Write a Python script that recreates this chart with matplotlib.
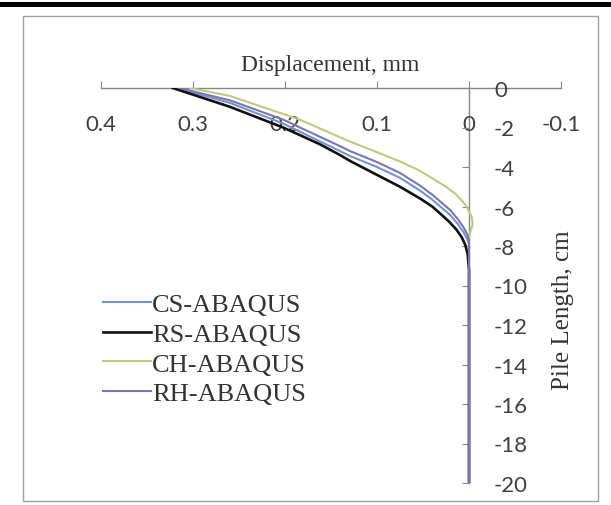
import matplotlib
matplotlib.use("Agg")
import matplotlib.pyplot as plt
from matplotlib.lines import Line2D
from matplotlib.patches import Rectangle

plt.rcParams['axes.unicode_minus'] = False

# displacement (mm) vs depth along pile (cm) for each case
rs_disp = [0.322, 0.26, 0.202, 0.162, 0.140, 0.129, 0.100, 0.075, 0.053, 0.040, 0.0315, 0.022, 0.014, 0.008, 0.004, 0.0015, 0.0, 0.0]
rs_depth = [0, -0.95, -2.0, -2.85, -3.4, -3.7, -4.4, -5.0, -5.6, -6.0, -6.35, -6.75, -7.15, -7.55, -7.95, -8.4, -9.2, -20]

ch_disp = [0.303, 0.26, 0.184, 0.140, 0.129, 0.100, 0.075, 0.055, 0.039, 0.025, 0.015, 0.0098, 0.005, 0.002, 0.0, -0.003, -0.004, -0.002, 0.0, 0.0]
ch_depth = [0, -0.4, -1.6, -2.5, -2.72, -3.25, -3.72, -4.15, -4.6, -5.0, -5.35, -5.6, -5.85, -6.05, -6.25, -6.55, -6.9, -7.2, -7.5, -20]

rh_disp = [0.315, 0.26, 0.202, 0.140, 0.129, 0.100, 0.075, 0.053, 0.040, 0.030, 0.020, 0.012, 0.006, 0.002, 0.0, 0.0]
rh_depth = [0, -0.62, -1.6, -2.95, -3.2, -3.75, -4.3, -4.95, -5.4, -5.8, -6.2, -6.65, -7.05, -7.4, -7.7, -20]

cs_disp = [0.318, 0.26, 0.202, 0.140, 0.129, 0.100, 0.075, 0.053, 0.040, 0.030, 0.020, 0.012, 0.006, 0.002, 0.0, 0.0]
cs_depth = [0, -0.75, -1.8, -3.2, -3.45, -4.0, -4.55, -5.2, -5.65, -6.05, -6.45, -6.9, -7.3, -7.65, -7.9, -20]

x_ticks = [0.4, 0.3, 0.2, 0.1, 0, -0.1]
x_labels = ['0.4', '0.3', '0.2', '0.1', '0', '-0.1']
y_ticks = list(range(0, -22, -2))

fig = plt.figure(figsize=(6.11, 5.06), dpi=100)
ax = fig.add_axes([101/611, 1-484/506, 460/611, 395/506])

ax.plot(cs_disp, cs_depth, color='#7393cf', lw=1.5, label='CS-ABAQUS')
ax.plot(rs_disp, rs_depth, color='#111111', lw=1.9, label='RS-ABAQUS')
ax.plot(ch_disp, ch_depth, color='#bccb7e', lw=1.5, label='CH-ABAQUS')
ax.plot(rh_disp, rh_depth, color='#7a76b3', lw=1.5, label='RH-ABAQUS')

ax.set_xlim(0.4, -0.1)
ax.set_ylim(-20, 0)

# axes cross at the origin: x axis along the top, y axis at zero displacement
for s in ['top', 'left']:
    ax.spines[s].set_visible(False)
ax.spines['bottom'].set_position(('data', 0))
ax.spines['right'].set_position(('data', 0))
for s in ['bottom', 'right']:
    ax.spines[s].set_color('#878787')
    ax.spines[s].set_linewidth(1.0)
    ax.spines[s].set_zorder(0)

ax.xaxis.set_ticks_position('bottom')
ax.yaxis.set_ticks_position('right')
ax.set_xticks(x_ticks)
ax.set_xticklabels(x_labels)
ax.set_yticks(y_ticks)
ax.set_yticklabels([str(v) for v in y_ticks])
ax.tick_params(axis='x', direction='in', length=5, color='#878787', pad=19,
               labelsize=16, labelcolor='#404040')
ax.tick_params(axis='y', direction='in', length=5, color='#878787', pad=18,
               labelsize=16, labelcolor='#404040')
for lab in ax.get_xticklabels() + ax.get_yticklabels():
    lab.set_fontfamily('Lato')
ax.patch.set_visible(False)

fig.text(330/611, 1-66/506, 'Displacement, mm', family='Liberation Serif',
         fontsize=17, color='#333333', ha='center', va='center')
fig.text(563/611, 1-310/506, 'Pile Length, cm', family='Liberation Serif',
         fontsize=18, color='#333333', ha='center', va='center', rotation=90)

ax.legend(loc='center left', bbox_to_anchor=(103/611, 1-350/506),
          bbox_transform=fig.transFigure, frameon=False, borderpad=0,
          borderaxespad=0, handlelength=1.8, handletextpad=0.05,
          labelspacing=0.23, prop={'family': 'Liberation Serif', 'size': 19},
          labelcolor='#333333')

# chart border and page rule
fig.add_artist(Rectangle((23/611, 4/506), 575/611, 485/506, transform=fig.transFigure,
                         fill=False, edgecolor='#a0a0a0', lw=1.0))
fig.add_artist(Line2D([0, 1], [1-4.5/506, 1-4.5/506], transform=fig.transFigure,
                      color='black', lw=3.6))

fig.savefig('out.png', dpi=100)
